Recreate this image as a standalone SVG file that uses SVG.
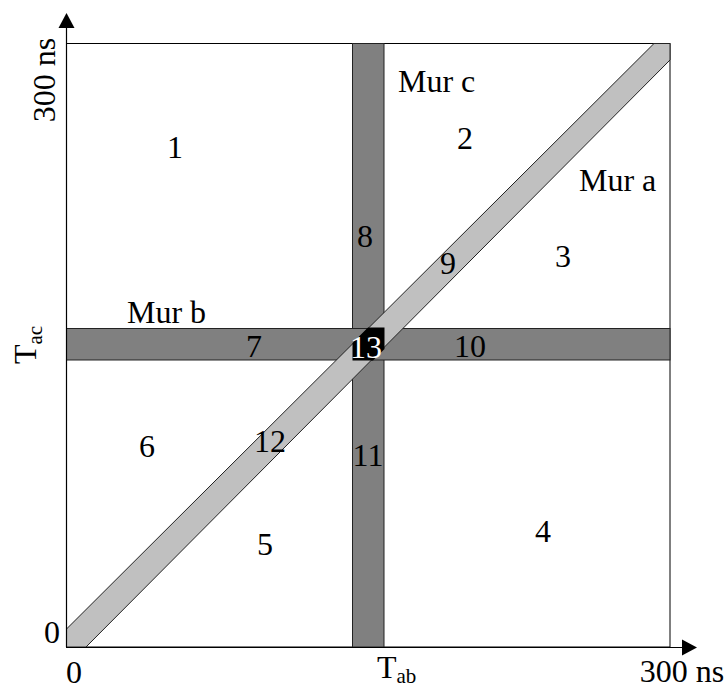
<svg xmlns="http://www.w3.org/2000/svg" width="726" height="689" viewBox="0 0 726 689">
<style>
text{font-family:"Liberation Serif","Times New Roman",serif;font-size:32px;fill:#000}
.wall{fill:#808080;stroke:#222;stroke-width:1}
.diag{fill:#c0c0c0;stroke:#222;stroke-width:1}
.axis{stroke:#000;stroke-width:1.2;fill:none}
.lbl{text-anchor:middle}
.sub{font-size:21px}
</style>
<rect width="726" height="689" fill="#fff"/>
<g id="frame"><rect x="66.5" y="43.5" width="603.5" height="603.5" fill="#fff" stroke="#000" stroke-width="1"/></g>
<g id="mur-c"><rect class="wall" x="352.5" y="43.5" width="31.5" height="603.5"/></g>
<g id="mur-b"><rect class="wall" x="66.5" y="328.5" width="603.5" height="31.5"/></g>
<g id="mur-a"><polygon class="diag" points="66.5,629 654,43.5 670,43.5 670,60 86,647 66.5,647"/></g>
<g id="zone-13"><polygon fill="#000" points="368,327.5 384.5,327.5 384.5,349 373,360.5 352.5,360.5 352.5,343"/></g>
<g id="connectors">
<line class="axis" x1="66.5" y1="647" x2="66.5" y2="26"/>
<polygon points="66.5,13 58.5,28 74.5,28" fill="#000"/>
<line class="axis" x1="66" y1="647.5" x2="684" y2="647.5"/>
<polygon points="697,647.5 682,639.5 682,655.5" fill="#000"/>
</g>
<g id="labels">
<text x="55" y="80" class="lbl" transform="rotate(-90 55 80)">300 ns</text>
<g transform="rotate(-90 36 345)"><text x="36" y="345" class="lbl">T<tspan class="sub" dy="6">ac</tspan></text></g>
<text x="52" y="643" class="lbl">0</text>
<text x="74" y="683" class="lbl">0</text>
<text x="377" y="678">T<tspan class="sub" dy="5">ab</tspan></text>
<text x="682" y="682" class="lbl">300 ns</text>
<text x="398" y="92">Mur c</text>
<text x="579" y="191">Mur a</text>
<text x="127" y="323">Mur b</text>
<text x="175" y="158" class="lbl">1</text>
<text x="465" y="149" class="lbl">2</text>
<text x="563" y="267" class="lbl">3</text>
<text x="543" y="542" class="lbl">4</text>
<text x="265" y="555" class="lbl">5</text>
<text x="147" y="457" class="lbl">6</text>
<text x="254" y="357" class="lbl">7</text>
<text x="365" y="247" class="lbl">8</text>
<text x="448" y="274" class="lbl">9</text>
<text x="470" y="357" class="lbl">10</text>
<text x="368" y="466" class="lbl">11</text>
<text x="270" y="452" class="lbl">12</text>
<text x="366" y="358" class="lbl" style="fill:#fff">13</text>
</g>
</svg>
